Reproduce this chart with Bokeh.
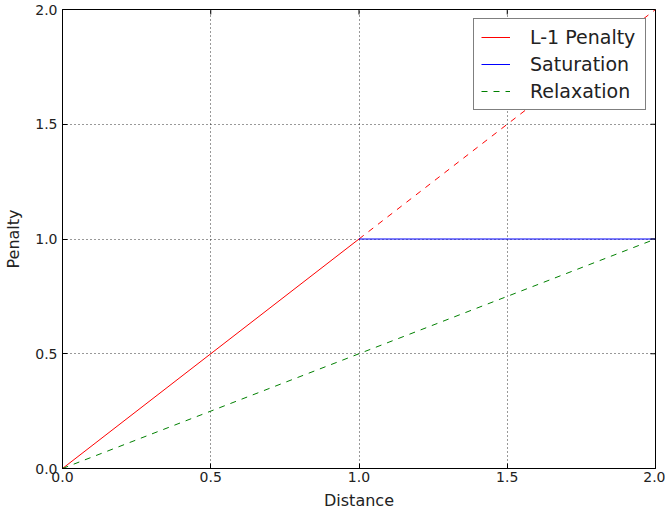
import math
from bokeh.plotting import figure
from bokeh.models import FixedTicker, NumeralTickFormatter, Legend, LegendItem, Range1d
from bokeh.embed import file_html
from bokeh.resources import INLINE

# data
l1_x = [0.0, 1.0]
l1_y = [0.0, 1.0]
l1_ext_x = [1.0, 2.0]
l1_ext_y = [1.0, 2.0]
sat_x = [1.0, 2.0]
sat_y = [1.0, 1.0]
relax_x = [0.0, 2.0]
relax_y = [0.0, 1.0]
ticks = [0.0, 0.5, 1.0, 1.5, 2.0]
x_max = 2.0
y_max = 2.0

FONT = "DejaVu Sans"

p = figure(width=665, height=512, output_backend="svg", toolbar_location=None,
           x_range=Range1d(0, x_max), y_range=Range1d(0, y_max),
           min_border_left=62, min_border_right=10, min_border_top=9, min_border_bottom=44)
p.background_fill_color = "white"
p.border_fill_color = "white"
p.outline_line_color = "black"
p.outline_line_width = 1

r1 = p.line(l1_x, l1_y, line_color="red", line_width=1)
p.line(l1_ext_x, l1_ext_y, line_color="red", line_width=1, line_dash="6 6")
r2 = p.line(sat_x, sat_y, line_color="blue", line_width=1)
r3 = p.line(relax_x, relax_y, line_color="green", line_width=1, line_dash="6 6")

for ax in (p.xaxis[0], p.yaxis[0]):
    ax.ticker = FixedTicker(ticks=ticks)
    ax.formatter = NumeralTickFormatter(format="0.0")
    ax.major_tick_in = 5
    ax.major_tick_out = 0
    ax.minor_tick_line_color = None
    ax.axis_line_color = "black"
    ax.major_tick_line_color = "black"
    ax.major_label_text_font = FONT
    ax.major_label_text_font_size = "14px"
    ax.major_label_text_color = "#222222"
    ax.axis_label_text_font = FONT
    ax.axis_label_text_font_size = "16px"
    ax.axis_label_text_font_style = "normal"
    ax.axis_label_text_color = "#222222"

p.xaxis[0].axis_label = "Distance"
p.yaxis[0].axis_label = "Penalty"
p.xaxis[0].major_label_standoff = 3
p.xaxis[0].axis_label_standoff = 6
p.yaxis[0].major_label_standoff = 5
p.yaxis[0].axis_label_standoff = 9

# inward ticks on the top and right frame edges (clipped to the frame)
p.scatter(x=ticks, y=[y_max] * len(ticks), marker="dash", angle=math.pi / 2,
          size=10, line_color="black", line_width=1)
p.scatter(x=[x_max] * len(ticks), y=ticks, marker="dash",
          size=10, line_color="black", line_width=1)

p.xgrid.ticker = FixedTicker(ticks=ticks)
p.ygrid.ticker = FixedTicker(ticks=ticks)
for g in (p.xgrid[0], p.ygrid[0]):
    g.grid_line_color = "black"
    g.grid_line_dash = "1 3"
    g.grid_line_width = 1
    g.grid_line_alpha = 0.8

legend = Legend(items=[LegendItem(label="L-1 Penalty", renderers=[r1]),
                       LegendItem(label="Saturation", renderers=[r2]),
                       LegendItem(label="Relaxation", renderers=[r3])],
                location="top_right")
legend.label_text_font = FONT
legend.label_text_font_size = "19px"
legend.label_text_color = "#222222"
legend.label_height = 22
legend.label_width = 108
legend.border_line_color = "black"
legend.border_line_width = 1
legend.background_fill_color = "white"
legend.background_fill_alpha = 1
legend.glyph_width = 29
legend.glyph_height = 22
legend.label_standoff = 20
legend.padding = 7
legend.spacing = 5
legend.margin = 9
p.add_layout(legend)

open("out.html", "w").write(file_html(p, INLINE))
